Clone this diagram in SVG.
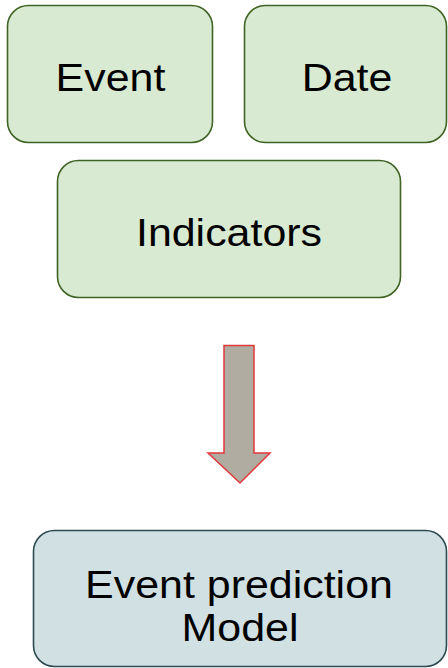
<svg xmlns="http://www.w3.org/2000/svg" width="448" height="668" viewBox="0 0 448 668">
  <defs>
    <style>
      .input rect { fill: #d9ead3; stroke: #3f6323; stroke-width: 1.6; }
      .model rect { fill: #d0e0e3; stroke: #2c4a50; stroke-width: 1.6; }
      .label { font-family: "Liberation Sans", Arial, sans-serif; font-size: 38px; fill: #000; text-anchor: middle; }
      .flow { fill: #b0aca2; stroke: #e0393b; stroke-width: 1.5; stroke-linejoin: miter; }
    </style>
  </defs>

  <rect width="448" height="668" fill="#ffffff"/>

  <g id="node-event" class="input">
    <rect x="7.5" y="5.5" width="205" height="137" rx="21" ry="21"/>
    <text class="label" transform="translate(110.5 91) scale(1.13 1)">Event</text>
  </g>

  <g id="node-date" class="input">
    <rect x="244.5" y="5.5" width="202" height="137" rx="21" ry="21"/>
    <text class="label" transform="translate(347 91) scale(1.13 1)">Date</text>
  </g>

  <g id="node-indicators" class="input">
    <rect x="57.5" y="160.5" width="343" height="137" rx="21" ry="21"/>
    <text class="label" transform="translate(229 246) scale(1.13 1)">Indicators</text>
  </g>

  <g id="connectors">
    <path class="flow" d="M224 345.5 H254 V453 H270 L240 483 L208 453 H224 Z"/>
  </g>

  <g id="node-model" class="model">
    <rect x="33.5" y="530.5" width="413" height="136" rx="21" ry="21"/>
    <text class="label" transform="translate(239 598) scale(1.13 1)">Event prediction</text>
    <text class="label" transform="translate(240 641) scale(1.13 1)">Model</text>
  </g>
</svg>
